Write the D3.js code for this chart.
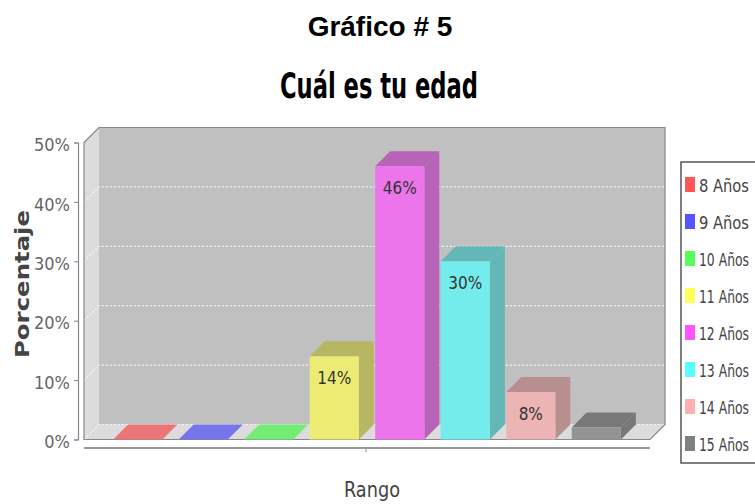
<!DOCTYPE html>
<html lang="es">
  <head>
    <meta charset="utf-8">
    <script src="https://d3js.org/d3.v7.min.js"></script>
    <style>
      body { margin: 0; background: #fff; }
      svg { display: block; }
    </style>
  </head>
  <body>
    <svg width="755" height="504"></svg>
    <script>
      // data
      var categories = ["8 Años", "9 Años", "10 Años", "11 Años", "12 Años", "13 Años", "14 Años", "15 Años"];
      var values = [0, 0, 0, 14, 46, 30, 8, 2];
      var barLabels = ["", "", "", "14%", "46%", "30%", "8%", ""];
      var yTicks = [0, 10, 20, 30, 40, 50];
      var colors = ["#ff5555", "#5555ff", "#55ff55", "#ffff55", "#ff55ff", "#55ffff", "#ffafaf", "#808080"];

      var svg = d3.select("svg");
      var depth = 15;            // 3d offset
      var left = 84, right = 650, floorY = 439.5, topY = 142.5;
      var wallColor = "#c0c0c0", sideColor = "#dcdcdc";

      var xScale = d3.scaleBand().domain(categories).range([left, right])
        .paddingInner(0.25).paddingOuter(0.445);
      var yScale = d3.scaleLinear().domain([0, 50]).range([floorY, topY]);

      // blend a colour at 70% over the wall grey
      function shade(c, dark) {
        var col = d3.color(c);
        if (dark) col = d3.rgb(col.r * 0.7, col.g * 0.7, col.b * 0.7);
        return d3.interpolateRgb(wallColor, col)(0.7);
      }
      function pts(a) { return a.map(function (p) { return p.join(","); }).join(" "); }

      // titles
      svg.append("text").attr("x", 380).attr("y", 36).attr("text-anchor", "middle")
        .style("font-family", "Liberation Sans, Arial, sans-serif").style("font-weight", "bold")
        .style("font-size", "28px").text("Gráfico # 5");
      svg.append("text").attr("x", 379).attr("y", 98).attr("text-anchor", "middle")
        .attr("textLength", 198).attr("lengthAdjust", "spacingAndGlyphs")
        .style("font-family", "DejaVu Sans Condensed, DejaVu Sans, sans-serif").style("font-weight", "bold")
        .style("font-size", "36px").text("Cuál es tu edad");

      // back wall, left wall, floor
      var plot = svg.append("g");
      plot.append("polygon")
        .attr("points", pts([[left, topY], [left + depth, topY - depth], [left + depth, floorY - depth], [left, floorY]]))
        .attr("fill", sideColor);
      plot.append("polygon")
        .attr("points", pts([[left, floorY], [left + depth, floorY - depth], [right + depth, floorY - depth], [right, floorY]]))
        .attr("fill", sideColor);
      plot.append("rect").attr("x", left + depth).attr("y", topY - depth)
        .attr("width", right - left).attr("height", floorY - topY).attr("fill", wallColor);

      // gridlines
      yTicks.forEach(function (t) {
        if (t == 50) return;
        var y = yScale(t);
        plot.append("polyline")
          .attr("points", pts([[left, y], [left + depth, y - depth], [right + depth, y - depth]]))
          .attr("fill", "none").attr("stroke", "#f6f6f6").attr("stroke-width", 1.2)
          .attr("stroke-dasharray", "2,2");
      });

      // outline
      plot.append("polygon")
        .attr("points", pts([[left, topY], [left + depth, topY - depth], [right + depth, topY - depth],
          [right + depth, floorY - depth], [right, floorY], [left, floorY]]))
        .attr("fill", "none").attr("stroke", "#888").attr("stroke-width", 1.2);

      // bars
      var bars = plot.selectAll("g.bar").data(categories).enter().append("g").attr("class", "bar");
      bars.each(function (d, i) {
        var g = d3.select(this);
        var x0 = xScale(d), x1 = x0 + xScale.bandwidth();
        var yt = yScale(values[i]);
        g.append("polygon")
          .attr("points", pts([[x1, yt], [x1 + depth, yt - depth], [x1 + depth, floorY - depth], [x1, floorY]]))
          .attr("fill", shade(colors[i], true));
        g.append("polygon")
          .attr("points", pts([[x0, yt], [x0 + depth, yt - depth], [x1 + depth, yt - depth], [x1, yt]]))
          .attr("fill", values[i] == 0 ? shade(colors[i], false) : shade(colors[i], true));
        g.append("rect").attr("x", x0).attr("y", yt)
          .attr("width", x1 - x0).attr("height", floorY - yt)
          .attr("fill", shade(colors[i], false));
        if (barLabels[i]) {
          g.append("text").attr("x", (x0 + x1) / 2).attr("y", yt + 28)
            .attr("text-anchor", "middle")
            .style("font-family", "DejaVu Sans Condensed, DejaVu Sans, sans-serif")
            .style("font-size", "17px").attr("fill", "#333").text(barLabels[i]);
        }
      });

      // y axis
      var yAxis = svg.append("g").attr("transform", "translate(78,0)")
        .call(d3.axisLeft(yScale).tickValues(yTicks).tickSize(4).tickPadding(4)
          .tickFormat(function (d) { return d + "%"; }));
      yAxis.select(".domain").attr("stroke", "#888").attr("stroke-width", 1.2);
      yAxis.selectAll(".tick line").attr("stroke", "#888");
      yAxis.selectAll(".tick text").attr("fill", "#666").attr("dy", "0.45em")
        .style("font-family", "DejaVu Sans Condensed, DejaVu Sans, sans-serif").style("font-size", "18px");

      svg.append("text")
        .attr("transform", "translate(29,284)rotate(-90)").attr("text-anchor", "middle")
        .attr("textLength", 148).attr("lengthAdjust", "spacingAndGlyphs")
        .style("font-family", "DejaVu Sans, sans-serif").style("font-weight", "bold")
        .style("font-size", "19px").attr("fill", "#444").text("Porcentaje");

      // category axis (single category)
      svg.append("line").attr("x1", left).attr("x2", right).attr("y1", 448).attr("y2", 448)
        .attr("stroke", "#999").attr("stroke-width", 2);
      svg.append("line").attr("x1", 366).attr("x2", 366).attr("y1", 449).attr("y2", 452)
        .attr("stroke", "#888");
      svg.append("text").attr("x", 372).attr("y", 497).attr("text-anchor", "middle")
        .attr("textLength", 56).attr("lengthAdjust", "spacingAndGlyphs")
        .style("font-family", "DejaVu Sans Condensed, DejaVu Sans, sans-serif")
        .style("font-size", "21px").attr("fill", "#444").text("Rango");

      // legend (box runs off the right edge, as in the picture)
      var legend = svg.append("g").attr("transform", "translate(681,162)");
      legend.append("rect").attr("width", 100).attr("height", 301)
        .attr("fill", "#fff").attr("stroke", "#555").attr("stroke-width", 1.5);
      var item = legend.selectAll("g.item").data(categories).enter().append("g")
        .attr("class", "item")
        .attr("transform", function (d, i) { return "translate(0," + (23 + i * 37) + ")"; });
      item.append("rect").attr("x", 4).attr("y", -8).attr("width", 10).attr("height", 15)
        .attr("fill", function (d, i) { return colors[i]; });
      item.append("text").attr("x", 18).attr("y", 7)
        .style("font-family", "DejaVu Sans Condensed, DejaVu Sans, sans-serif")
        .style("font-size", "18px").attr("fill", "#444").text(function (d) { return d; })
        .each(function () {
          // squeeze the longer names so they stay inside the page
          var room = 755 - 681 - 18 - 6;
          var w = this.getComputedTextLength();
          if (w > room) d3.select(this).attr("textLength", room).attr("lengthAdjust", "spacingAndGlyphs");
        });
    </script>
  </body>
</html>
